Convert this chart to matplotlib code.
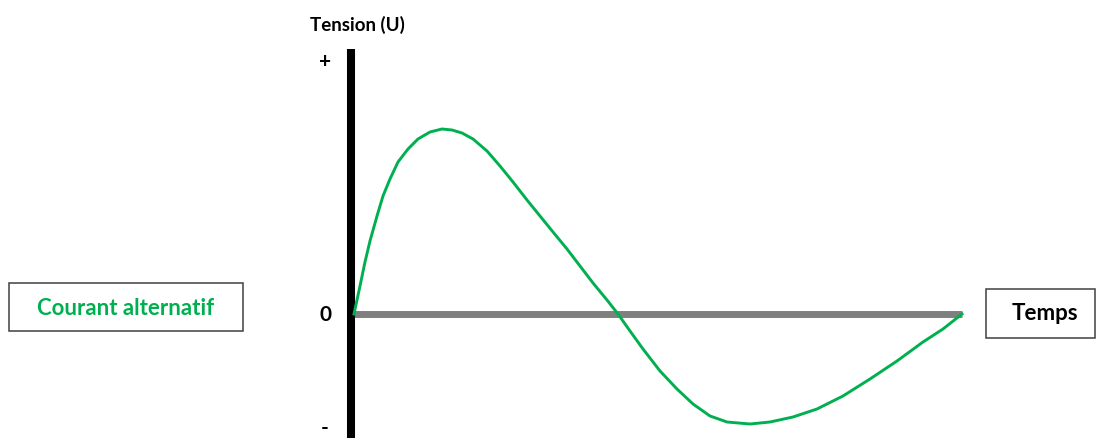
import matplotlib.pyplot as plt
from matplotlib.patches import Rectangle

# Points (arbitrary units): time and voltage
t = [2, 8, 13, 18, 25, 31, 38, 46, 56, 66, 78, 90, 100, 110, 121, 135, 148,
     161, 175, 188, 201, 215, 228, 241, 255, 266, 278, 291, 308, 325, 341,
     358, 375, 398, 418, 441, 465, 491, 518, 545, 571, 591, 610]
u = [0, 28, 52, 73, 98, 118, 135, 152, 165, 175, 182, 185, 184, 181, 175,
     163, 148, 132, 114, 98, 82, 65, 48, 31, 14, 0, -17, -35, -57, -75, -90,
     -102, -108, -110, -108, -103, -95, -82, -65, -47, -28, -15, 0]

y_ticks = [253, 0, -113]
y_tick_labels = ['+', '0', '-']
y_label = 'Tension (U)'
x_label = 'Temps'
title = 'Courant alternatif'

green = '#00B050'
font = ['Lato', 'DejaVu Sans']

fig = plt.figure(figsize=(10.96, 4.39), dpi=100)
ax = fig.add_axes([0, 0, 1, 1])
ax.set_xlim(-352, 744)
ax.set_ylim(-124, 315)
ax.axis('off')

# axes lines
ax.plot([0, 610], [0, 0], color='#7f7f7f', lw=5, solid_capstyle='butt', zorder=1)
ax.plot([-1, -1], [265, -130], color='black', lw=5.8,
        solid_capstyle='butt', zorder=2)

# signal
ax.plot(t, u, color=green, lw=2.1, zorder=3, solid_joinstyle='round')

for yv, lab in zip(y_ticks, y_tick_labels):
    ax.text(-27, yv, lab, ha='center', va='center', fontsize=15,
            fontweight='bold', family=font)
ax.text(5, 290, y_label, ha='center', va='center', fontsize=13.5,
        fontweight='bold', family=font)

# boxes
W, H = 1096, 439
fig.add_artist(Rectangle((9 / W, 1 - 332 / H), 234 / W, 48 / H,
                         transform=fig.transFigure, fill=False,
                         ec='#404040', lw=1.1))
fig.text(126 / W, 1 - 309 / H, title, ha='center', va='center', color=green,
         fontsize=16, fontweight='bold', family=font)
fig.add_artist(Rectangle((986 / W, 1 - 339 / H), 109 / W, 49 / H,
                         transform=fig.transFigure, fill=False,
                         ec='#404040', lw=1.1))
fig.text(1045 / W, 1 - 314 / H, x_label, ha='center', va='center',
         fontsize=16, fontweight='bold', family=font)

plt.savefig('out.png', dpi=100)
